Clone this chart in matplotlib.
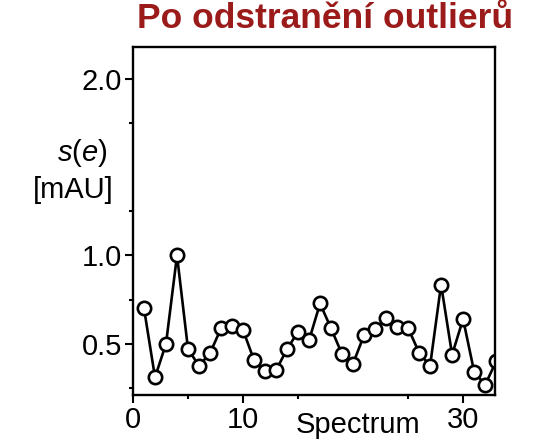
import matplotlib
matplotlib.use("Agg")
import matplotlib.pyplot as plt

plt.rcParams["font.family"] = ["Liberation Sans", "DejaVu Sans"]
plt.rcParams["mathtext.fontset"] = "custom"
plt.rcParams["mathtext.it"] = "Liberation Sans:italic"
plt.rcParams["mathtext.rm"] = "Liberation Sans"

# s(e) per spectrum after removing outliers
spectrum = list(range(1, 34))
s_e = [0.70, 0.31, 0.50, 1.00, 0.47, 0.375, 0.447, 0.587, 0.598, 0.578,
       0.407, 0.347, 0.35, 0.47, 0.568, 0.52, 0.728, 0.587, 0.441, 0.388,
       0.549, 0.584, 0.644, 0.597, 0.589, 0.45, 0.375, 0.835, 0.438, 0.64,
       0.343, 0.267, 0.40]

x_major = [0, 10, 30]
x_minor = [5, 15, 25]
y_major = [0.5, 1.0, 2.0]
y_minor = [0.25, 0.75, 1.25, 1.75]

fig = plt.figure(figsize=(5.35, 4.48), dpi=100)
ax = fig.add_axes([133 / 535, 1 - 395 / 448, 362 / 535, 348 / 448])

ax.plot(spectrum, s_e, color="black", lw=1.9, marker="o", ms=9.6,
        mfc="white", mec="black", mew=1.9)

ax.set_xlim(0, 32.9)
ax.set_ylim(0.21, 2.18)
ax.set_xticks(x_major)
ax.set_xticks(x_minor, minor=True)
ax.set_yticks(y_major)
ax.set_yticks(y_minor, minor=True)
ax.set_xticklabels(["0", "10", "30"])
ax.set_yticklabels(["0.5", "1.0", "2.0"])

for sp in ax.spines.values():
    sp.set_linewidth(1.7)
ax.tick_params(which="major", length=6, width=1.5, labelsize=21, pad=2)
ax.tick_params(which="minor", length=3, width=1.5)

fig.text(325 / 535, 1 - 19 / 448, "Po odstranění outlierů", color="#9b1a1a",
         fontsize=25.5, fontweight="bold", ha="center", va="center")
fig.text(82 / 535, 1 - 153 / 448, r"$s$($e$)", fontsize=21,
         ha="center", va="center")
fig.text(73 / 535, 1 - 190 / 448, "[mAU]", fontsize=21,
         ha="center", va="center")
fig.text(358 / 535, 1 - 425 / 448, "Spectrum", fontsize=21,
         ha="center", va="center")

fig.savefig("out.png", dpi=100)
